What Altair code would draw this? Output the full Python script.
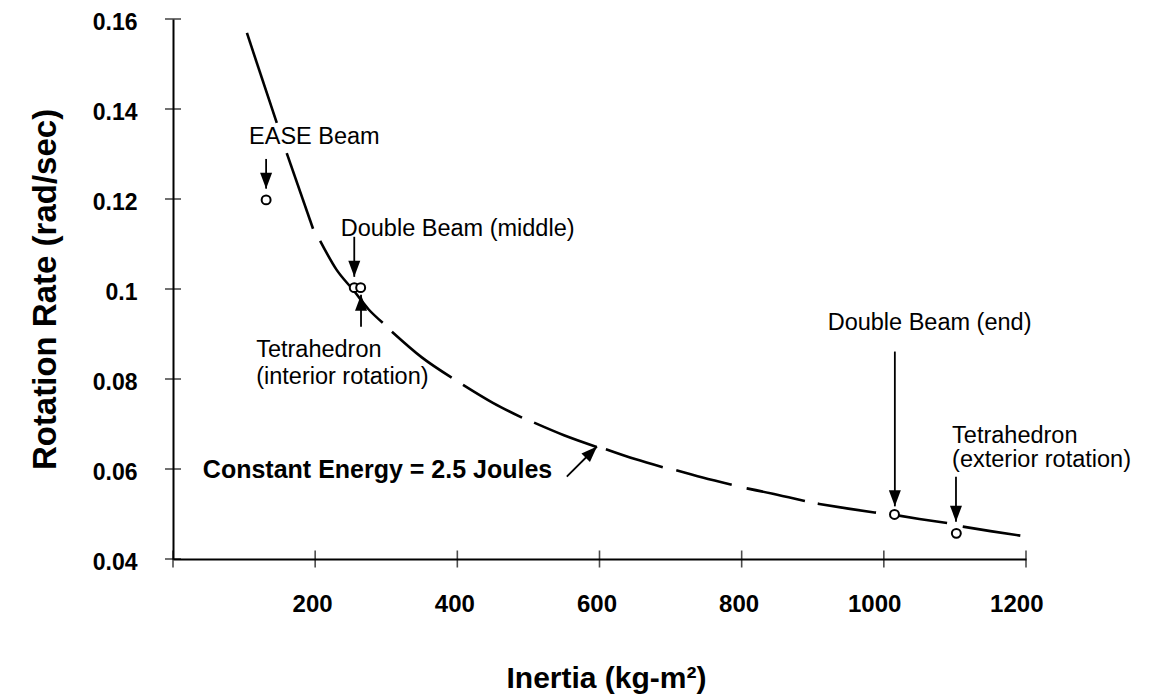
import altair as alt
import pandas as pd

# ---- curve: constant energy line, drawn as broken (dashed) segments
curve_seg = ["A", "A",
             "B", "B",
             "C", "C", "C", "C", "C",
             "D", "D", "D",
             "E", "E", "E",
             "F", "F", "F",
             "G", "G", "G",
             "H", "H", "H",
             "I", "I", "I",
             "J", "J", "J",
             "K", "K", "K",
             "L", "L", "L"]
curve_x = [104, 146,
           160, 197,
           207, 230, 255, 275, 295,
           308, 350, 392,
           408, 450, 491,
           508, 550, 596,
           609, 650, 689,
           708, 745, 786,
           807, 850, 889,
           907, 950, 989,
           1015, 1050, 1089,
           1111, 1150, 1192]
curve_y = [0.1569, 0.1369,
           0.1302, 0.1134,
           0.1107, 0.1043, 0.0995, 0.0955, 0.0925,
           0.0905, 0.0848, 0.0803,
           0.0787, 0.0747, 0.0714,
           0.0703, 0.0675, 0.0649,
           0.0644, 0.0622, 0.0604,
           0.0597, 0.0581, 0.0565,
           0.0557, 0.0543, 0.0529,
           0.0523, 0.0512, 0.0503,
           0.0498, 0.0489, 0.0480,
           0.0472, 0.0462, 0.0452]

# ---- measured structures (open circles)
pt_name = ["EASE Beam", "Double Beam (middle)", "Tetrahedron (interior rotation)",
           "Double Beam (end)", "Tetrahedron (exterior rotation)"]
pt_x = [131, 255, 264, 1015, 1102]
pt_y = [0.1198, 0.1003, 0.1003, 0.0499, 0.0457]

# ---- annotation arrows (tail -> tip), data units
arr_x1 = [131, 255, 264.5, 1015.5, 1101.5, 554]
arr_y1 = [0.1289, 0.1116, 0.0916, 0.0861, 0.0583, 0.0583]
arr_x2 = [131, 255, 264.5, 1015.5, 1101.5, 596.5]
arr_y2 = [0.1223, 0.1027, 0.0987, 0.0517, 0.0483, 0.0650]
arr_angle = [0, 0, 180, 0, 0, 225]

# ---- annotation texts
lbl_text = ["EASE Beam", "Double Beam (middle)", "Tetrahedron", "(interior rotation)",
            "Double Beam (end)", "Tetrahedron", "(exterior rotation)"]
lbl_x = [107, 236, 117, 117, 921, 1096, 1096]
lbl_y = [0.1338, 0.1134, 0.0865, 0.0805, 0.0925, 0.0674, 0.0619]

bold_text = ["Constant Energy = 2.5 Joules"]
bold_x = [42]
bold_y = [0.0597]

# ---- axes
x_tick_pos = [0, 200, 400, 600, 800, 1000, 1200]
x_tick_labels = [200, 400, 600, 800, 1000, 1200]
y_tick_pos = [0.04, 0.06, 0.08, 0.10, 0.12, 0.14, 0.16]

xs = alt.Scale(domain=[0, 1200], nice=False, zero=False)
ys = alt.Scale(domain=[0.04, 0.16], nice=False, zero=False)

curve_df = pd.DataFrame({"seg": curve_seg, "x": curve_x, "y": curve_y})
pt_df = pd.DataFrame({"name": pt_name, "x": pt_x, "y": pt_y})
arr_df = pd.DataFrame({"x": arr_x1, "y": arr_y1, "x2": arr_x2, "y2": arr_y2, "angle": arr_angle})
lbl_df = pd.DataFrame({"text": lbl_text, "x": lbl_x, "y": lbl_y})
bold_df = pd.DataFrame({"text": bold_text, "x": bold_x, "y": bold_y})
xt_df = pd.DataFrame({"x": x_tick_pos, "y": [0.04] * len(x_tick_pos)})
yt_df = pd.DataFrame({"x": [0] * len(y_tick_pos), "y": y_tick_pos})

x_axis = alt.Axis(values=x_tick_labels, format="d", ticks=False, tickSize=0, grid=False,
                  domainColor="black", domainWidth=2, labelFlush=False,
                  labelFont="Liberation Sans", labelFontWeight="bold", labelFontSize=24,
                  labelColor="black", labelPadding=52, labelBaseline="alphabetic",
                  labelAlign="right", labelOffset=17,
                  title="Inertia (kg-m²)", titleFont="Liberation Sans", titleFontSize=30,
                  titleFontWeight="bold", titleColor="black", titleX=433, titleY=128,
                  titleBaseline="alphabetic")
y_axis = alt.Axis(values=y_tick_pos, format="~g", ticks=False, tickSize=0, grid=False,
                  domainColor="black", domainWidth=2, labelFlush=False,
                  labelFont="Liberation Sans", labelFontWeight="bold", labelFontSize=23,
                  labelColor="black", labelPadding=36, labelOffset=3,
                  title="Rotation Rate (rad/sec)", titleFont="Liberation Sans", titleFontSize=33,
                  titleFontWeight="bold", titleColor="black", titleX=-118, titleY=270,
                  titleBaseline="alphabetic")


def X(f="x"):
    return alt.X(f + ":Q", scale=xs, axis=x_axis)


def Y(f="y"):
    return alt.Y(f + ":Q", scale=ys, axis=y_axis)


curve = alt.Chart(curve_df).mark_line(color="black", strokeWidth=2.6, interpolate="monotone").encode(
    x=X(), y=Y(), detail="seg:N",
)

xticks = alt.Chart(xt_df).mark_tick(orient="vertical", size=17, thickness=1.6, color="black").encode(
    x=X(), y=Y())
yticks = alt.Chart(yt_df).mark_tick(orient="horizontal", size=16, thickness=1.6, color="black").encode(
    x=X(), y=Y())

shafts = alt.Chart(arr_df).mark_rule(color="black", strokeWidth=1.8).encode(
    x=X(), y=Y(), x2="x2:Q", y2="y2:Q")
heads = alt.Chart(arr_df).mark_point(shape="M-1.2,-3.2L1.2,-3.2L0,0Z", size=100, filled=True,
                                     color="black", opacity=1).encode(
    x=X("x2"), y=Y("y2"),
    angle=alt.Angle("angle:Q", scale=None))

points = alt.Chart(pt_df).mark_point(shape="circle", size=80, filled=False, fill="white",
                                     fillOpacity=1, stroke="black", strokeWidth=2,
                                     opacity=1).encode(x=X(), y=Y())

labels = alt.Chart(lbl_df).mark_text(align="left", baseline="middle", font="Liberation Sans",
                                     fontSize=23.5, color="black").encode(
    x=X(), y=Y(), text="text:N")
blabels = alt.Chart(bold_df).mark_text(align="left", baseline="middle", font="Liberation Sans",
                                       fontSize=25, fontWeight="bold", color="black").encode(
    x=X(), y=Y(), text="text:N")

chart = alt.layer(curve, xticks, yticks, shafts, heads, points, labels, blabels).properties(
    width=853, height=540,
    autosize=alt.AutoSizeParams(type="none"),
    padding={"left": 165, "top": 11, "right": 116, "bottom": 136},
    background="white",
).configure_view(stroke=None)

chart.save("out.html", embed_options={"renderer": "svg", "actions": False})
